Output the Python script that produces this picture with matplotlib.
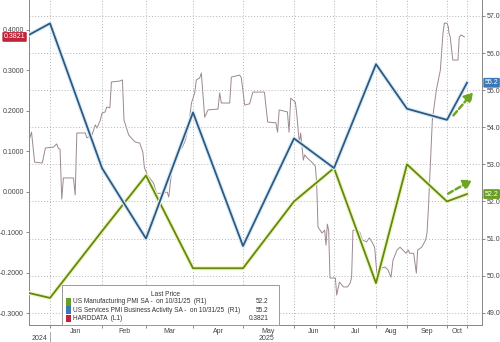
import numpy as np
import pandas as pd
import matplotlib
matplotlib.use('Agg')
import matplotlib.pyplot as plt
import matplotlib.dates as mdates
import matplotlib.transforms as mtrans
import matplotlib.patheffects as pe
from matplotlib.patches import Rectangle
from matplotlib.lines import Line2D

# ---------------- data ----------------
pmi_dates = ['2024-11-30', '2024-12-31', '2025-01-31', '2025-02-28', '2025-03-31',
             '2025-04-30', '2025-05-31', '2025-06-30', '2025-07-31', '2025-08-31',
             '2025-09-30', '2025-10-31']
manufacturing_pmi = [49.7, 49.4, 51.2, 52.7, 50.2, 50.2, 52.0, 52.9, 49.8, 53.0, 52.0, 52.2]
services_pmi = [56.1, 56.8, 52.9, 51.0, 54.4, 50.8, 53.7, 52.9, 55.7, 54.5, 54.2, 55.2]

hard_dates = [
    '2024-12-16', '2024-12-19', '2024-12-21', '2024-12-26', '2024-12-28',
    '2025-01-02', '2025-01-04', '2025-01-05', '2025-01-06', '2025-01-07', '2025-01-08',
    '2025-01-14', '2025-01-15', '2025-01-16', '2025-01-21', '2025-01-22', '2025-01-25',
    '2025-01-27', '2025-01-28', '2025-01-30', '2025-01-31',
    '2025-02-02', '2025-02-03', '2025-02-05', '2025-02-06', '2025-02-11', '2025-02-13',
    '2025-02-14', '2025-02-17', '2025-02-21', '2025-02-24', '2025-02-26', '2025-02-27',
    '2025-03-01', '2025-03-05', '2025-03-07', '2025-03-11', '2025-03-14', '2025-03-15',
    '2025-03-17', '2025-03-19', '2025-03-21', '2025-03-24', '2025-03-26', '2025-03-28',
    '2025-03-30',
    '2025-04-01', '2025-04-02', '2025-04-04', '2025-04-05', '2025-04-07', '2025-04-09',
    '2025-04-15', '2025-04-16', '2025-04-17', '2025-04-22', '2025-04-23', '2025-04-28',
    '2025-04-29',
    '2025-05-01', '2025-05-04', '2025-05-06', '2025-05-13', '2025-05-15', '2025-05-20',
    '2025-05-21', '2025-05-22', '2025-05-27', '2025-05-28', '2025-05-29',
    '2025-06-01', '2025-06-02', '2025-06-04', '2025-06-05', '2025-06-07', '2025-06-08',
    '2025-06-10', '2025-06-14', '2025-06-16', '2025-06-17', '2025-06-18', '2025-06-21',
    '2025-06-23', '2025-06-24', '2025-06-25', '2025-06-26', '2025-06-27',
    '2025-07-01', '2025-07-02', '2025-07-04', '2025-07-07', '2025-07-10', '2025-07-12',
    '2025-07-13', '2025-07-14', '2025-07-17', '2025-07-19', '2025-07-21', '2025-07-24',
    '2025-07-26', '2025-07-28', '2025-07-30',
    '2025-08-01', '2025-08-02', '2025-08-06', '2025-08-09', '2025-08-12', '2025-08-15',
    '2025-08-17', '2025-08-21', '2025-08-24', '2025-08-27', '2025-08-30',
    '2025-09-01', '2025-09-02', '2025-09-05', '2025-09-07', '2025-09-08', '2025-09-11',
    '2025-09-14', '2025-09-15', '2025-09-16', '2025-09-17', '2025-09-19', '2025-09-22',
    '2025-09-25', '2025-09-27', '2025-09-28', '2025-09-30',
    '2025-10-02', '2025-10-03', '2025-10-05', '2025-10-09', '2025-10-17', '2025-10-19',
    '2025-10-22', '2025-10-25', '2025-10-27']
hard_values = [
    0.110, 0.147, 0.073, 0.071, 0.108,
    0.110, 0.118, 0.107, 0.105, -0.018, 0.034,
    0.034, -0.008, 0.145, 0.145, 0.133, 0.140,
    0.165, 0.157, 0.177, 0.194,
    0.197, 0.209, 0.207, 0.271, 0.273, 0.276,
    0.177, 0.140, 0.123, 0.120, 0.098, 0.059,
    0.041, 0.021, -0.004, -0.004, -0.001, -0.013,
    0.053, 0.078, 0.096, 0.110, 0.128, 0.160,
    0.219,
    0.244, 0.276, 0.281, 0.293, 0.184, 0.202,
    0.204, 0.244, 0.219, 0.219, 0.283, 0.288,
    0.281,
    0.214, 0.217, 0.246, 0.246, 0.172, 0.170,
    0.147, 0.202, 0.197, 0.147, 0.231,
    0.221, 0.194, 0.120, 0.145, 0.078, 0.091,
    0.083, 0.071, 0.063, 0.021, -0.087, -0.102,
    -0.095, -0.132, -0.080, -0.095, -0.213,
    -0.213, -0.255, -0.223, -0.235, -0.235, -0.225,
    -0.211, -0.095, -0.095, -0.100, -0.119, -0.124,
    -0.114, -0.124, -0.137,
    -0.206, -0.201, -0.188, -0.186, -0.193, -0.211,
    -0.169, -0.144, -0.137, -0.144, -0.152,
    -0.144, -0.152, -0.152, -0.201, -0.144, -0.137,
    -0.119, -0.102, -0.045, 0.029, 0.177, 0.251,
    0.300, 0.392, 0.416, 0.416,
    0.407, 0.392, 0.382, 0.325, 0.325, 0.382,
    0.387, 0.384, 0.3821]

month_labels = ['Jan', 'Feb', 'Mar', 'Apr', 'May', 'Jun', 'Jul', 'Aug', 'Sep', 'Oct']
year_labels = ['2024', '2025']
left_ticks = [-0.3, -0.2, -0.1, 0.0, 0.1, 0.2, 0.3, 0.4]
right_ticks = [49, 50, 51, 52, 53, 54, 55, 56, 57]

legend_names = ['US Manufacturing PMI SA -  on 10/31/25  (R1)',
                'US Services PMI Business Activity SA -  on 10/31/25  (R1)',
                'HARDDATA  (L1)']
legend_values = ['52.2', '55.2', '0.3821']

# ---------------- style ----------------
C_MAN = '#5f8a12'
C_SERV = '#2c5a82'
C_HARD = '#9c8890'
C_MAN_TAG = '#6a9d24'
C_SERV_TAG = '#3b78b8'
C_HARD_TAG = '#c0243a'
GRID = '#b4b4b4'
TXT = '#444444'
FS_TICK = 5.0
FS_LEG = 4.7
plt.rcParams['font.family'] = ['Liberation Sans', 'DejaVu Sans']

# non-uniform (Bloomberg-like) time axis: month-end knots and their widths
knot_dates = mdates.date2num(pd.to_datetime(
    ['2024-11-30', '2024-12-31', '2025-01-31', '2025-02-28', '2025-03-31', '2025-04-30',
     '2025-05-31', '2025-06-30', '2025-07-31', '2025-08-31', '2025-09-30', '2025-10-31',
     '2025-11-30']))
knot_pos = np.array([2.3, 50, 102, 146, 193, 243, 294, 334, 376, 407, 447, 467, 487], float)


def fwd(x):
    return np.interp(x, knot_dates, knot_pos)


def inv(p):
    return np.interp(p, knot_pos, knot_dates)


fig = plt.figure(figsize=(5.0, 3.42), dpi=100)
ax = fig.add_axes([29 / 500, 1 - 325 / 342, 453 / 500, 325 / 342])
ax2 = ax.twinx()
for a in (ax, ax2):
    a.set_xscale('function', functions=(fwd, inv))

pd_num = mdates.date2num(pd.to_datetime(pmi_dates))
hd_num = mdates.date2num(pd.to_datetime(hard_dates))

ax.plot(hd_num, hard_values, color=C_HARD, lw=0.7, zorder=2)

ax2.plot(pd_num, manufacturing_pmi, color=C_MAN, lw=1.3, zorder=3,
         path_effects=[pe.Stroke(linewidth=3.0, foreground='#f1f3c0'), pe.Normal()])
ax2.plot(pd_num, services_pmi, color=C_SERV, lw=1.3, zorder=4,
         path_effects=[pe.Stroke(linewidth=3.0, foreground='#dcecf6'), pe.Normal()])

xlo, xhi = inv(29), inv(482)
for a in (ax, ax2):
    a.set_xlim(xlo, xhi)
ax.set_ylim(-0.329, 0.4733)
ax2.set_ylim(48.67, 57.431)

# y ticks
ax.set_yticks(left_ticks)
ax.set_yticklabels([f'{v:.4f}' for v in left_ticks])
ax2.set_yticks(right_ticks)
ax2.set_yticklabels([f'{v:.1f}' for v in right_ticks])
for a in (ax, ax2):
    a.tick_params(axis='y', direction='out', length=2.5, width=0.6, color='#777777',
                  labelsize=FS_TICK, labelcolor=TXT, pad=1.2)

# x ticks: month boundaries (major, gridlines), labels at month centres (minor)
month_ends = knot_dates[1:12]
ax.set_xticks(month_ends)
ax.set_xticklabels([])
centres = [inv((fwd(a) + fwd(b)) / 2) for a, b in zip(knot_dates[1:11], knot_dates[2:12])]
ax.set_xticks(centres, minor=True)
ax.set_xticklabels(month_labels, minor=True)
ax.tick_params(axis='x', which='major', direction='out', length=2.5, width=0.6, color='#777777')
ax.tick_params(axis='x', which='minor', length=0, labelsize=FS_TICK, labelcolor=TXT, pad=2.5)
ax2.tick_params(axis='x', which='both', bottom=False, top=False, labelbottom=False)

# grids
ax.xaxis.grid(True, which='major', linestyle=(0, (1, 2)), color=GRID, lw=0.7)
ax.yaxis.grid(False)
ax2.yaxis.grid(True, linestyle=(0, (1, 2)), color=GRID, lw=0.7)
ax2.xaxis.grid(False)

for a in (ax, ax2):
    a.spines['top'].set_visible(False)
    for s in ('left', 'right', 'bottom'):
        a.spines[s].set_color('#8a8a8a')
        a.spines[s].set_linewidth(0.7)

# year labels
trans_x = mtrans.blended_transform_factory(ax.transData, ax.transAxes)
y_year = -(338 - 325) / 325
ax.text(inv((29 + 50) / 2), y_year, year_labels[0], transform=trans_x, ha='center', va='center',
        fontsize=FS_TICK, color=TXT, clip_on=False)
ax.text(inv((50 + 482) / 2), y_year, year_labels[1], transform=trans_x, ha='center', va='center',
        fontsize=FS_TICK, color=TXT, clip_on=False)
ax.add_line(Line2D([knot_dates[1], knot_dates[1]], [-(332 - 325) / 325, -(342 - 325) / 325],
                   transform=trans_x, color='#999999', lw=0.6, clip_on=False))

# value tags
tr_r = mtrans.blended_transform_factory(ax2.transAxes, ax2.transData)
tr_l = mtrans.blended_transform_factory(ax.transAxes, ax.transData)
ax2.text(1.006, services_pmi[-1], legend_values[1], transform=tr_r, ha='left', va='center',
         fontsize=FS_TICK, color='white', clip_on=False, zorder=10,
         bbox=dict(boxstyle='round,pad=0.2,rounding_size=0.15', fc=C_SERV_TAG, ec='none'))
ax2.text(1.006, manufacturing_pmi[-1], legend_values[0], transform=tr_r, ha='left', va='center',
         fontsize=FS_TICK, color='white', clip_on=False, zorder=10,
         bbox=dict(boxstyle='round,pad=0.2,rounding_size=0.15', fc=C_MAN_TAG, ec='none'))
ax.text(-0.008, hard_values[-1], legend_values[2], transform=tr_l, ha='right', va='center',
        fontsize=FS_TICK, color='white', clip_on=False, zorder=10,
        bbox=dict(boxstyle='round,pad=0.2,rounding_size=0.15', fc=C_HARD_TAG, ec='none'))

# dashed annotation arrows
arrow_kw = dict(arrowstyle='-|>,head_length=0.5,head_width=0.3', color='#6ea623', lw=1.8,
                linestyle=(0, (2.2, 1.2)), shrinkA=0, shrinkB=0)
ax2.annotate('', xy=(0.980, 0.716), xytext=(0.937, 0.645), xycoords='axes fraction',
             textcoords='axes fraction', arrowprops=arrow_kw, zorder=6)
ax2.annotate('', xy=(0.978, 0.446), xytext=(0.925, 0.404), xycoords='axes fraction',
             textcoords='axes fraction', arrowprops=arrow_kw, zorder=6)

# legend box
lx0, lx1 = (62 - 29) / 453, (279 - 29) / 453
ly1 = (325 - 285) / 325
ax2.add_patch(Rectangle((lx0, 0.0), lx1 - lx0, ly1, transform=ax2.transAxes, fc='white',
                        ec='#9a9a9a', lw=0.7, zorder=20, clip_on=False))
ax2.text((lx0 + lx1) / 2 - 0.01, 0.095, 'Last Price', transform=ax2.transAxes, ha='center',
         va='center', fontsize=FS_LEG, color='#333333', zorder=21)
row_y = [0.071, 0.046, 0.021]
sq_colors = [C_MAN_TAG, C_SERV_TAG, C_HARD_TAG]
for yy, nm, vv, cc in zip(row_y, legend_names, legend_values, sq_colors):
    ax2.add_patch(Rectangle((0.081, yy - 0.011), 0.012, 0.022, transform=ax2.transAxes,
                            fc=cc, ec='none', zorder=21))
    ax2.text(0.097, yy, nm, transform=ax2.transAxes, ha='left', va='center',
             fontsize=FS_LEG, color='#333333', zorder=21)
    ax2.text(0.528, yy, vv, transform=ax2.transAxes, ha='right', va='center',
             fontsize=FS_LEG, color='#333333', zorder=21)

fig.savefig('out.png', dpi=100)
